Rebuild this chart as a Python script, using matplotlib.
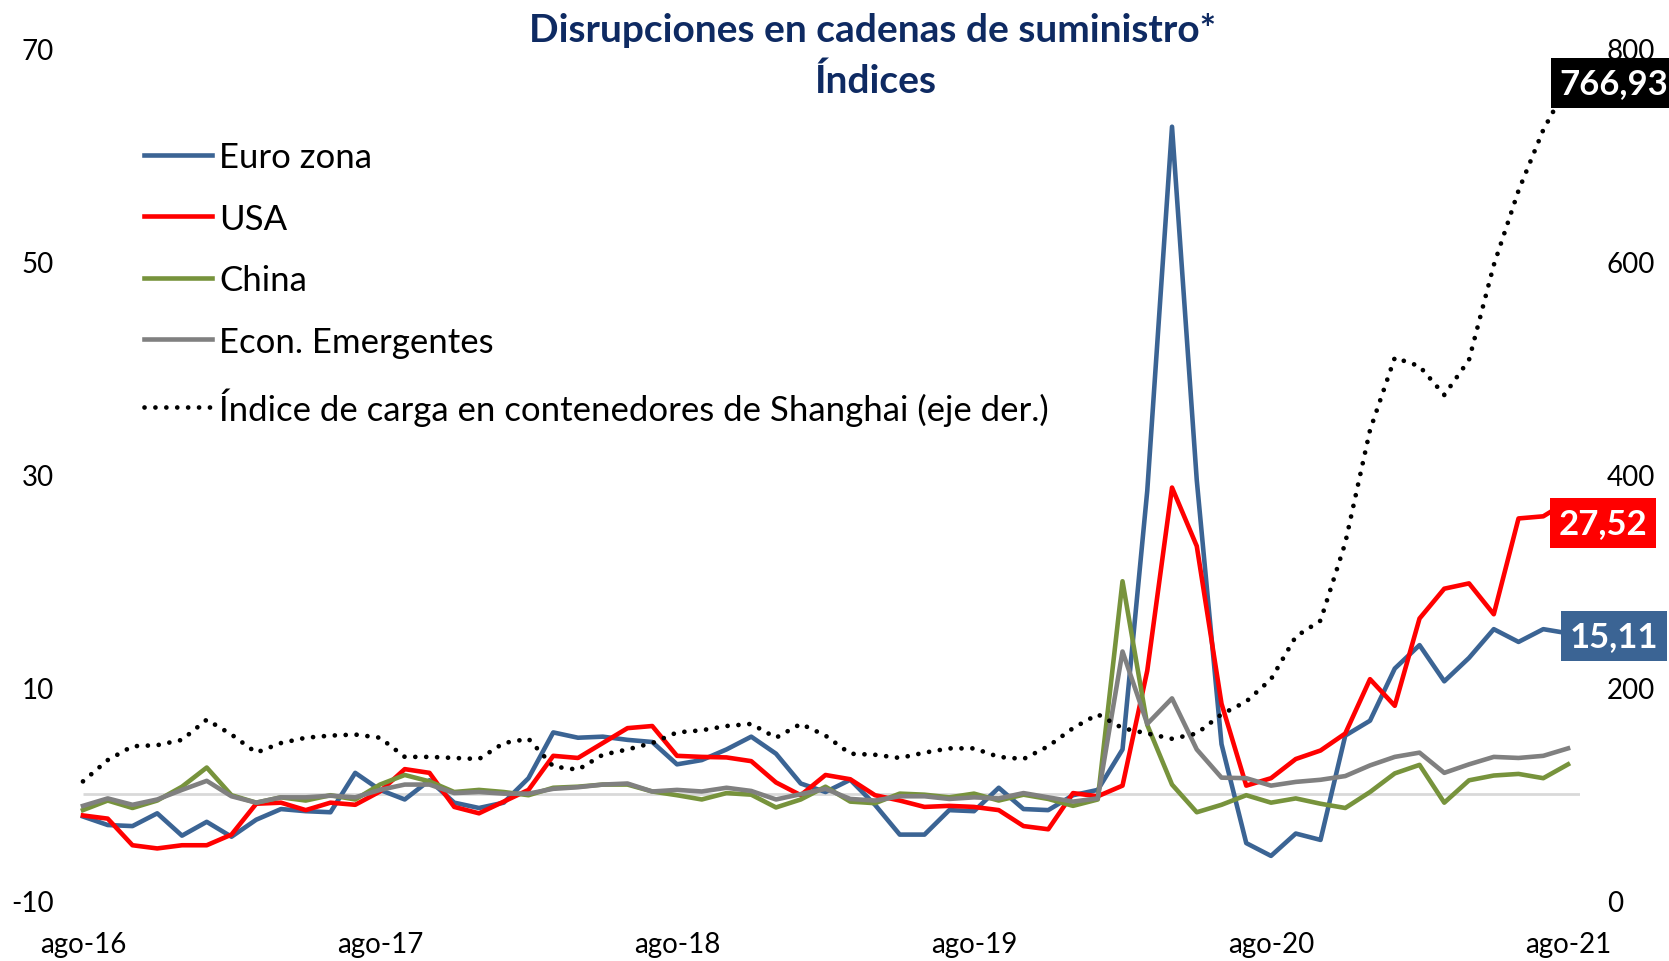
import matplotlib
matplotlib.use("Agg")
import matplotlib.pyplot as plt

plt.rcParams['font.family'] = ['Lato', 'DejaVu Sans']
plt.rcParams['axes.unicode_minus'] = False

# monthly, ago-16 .. ago-21
x_labels = ['ago-16', 'ago-17', 'ago-18', 'ago-19', 'ago-20', 'ago-21']

euro_zona = [-2.1, -2.9, -3.0, -1.8, -3.9, -2.6, -4.0, -2.4, -1.4, -1.6, -1.7, 2.0,
             0.4, -0.5, 1.3, -0.8, -1.3, -0.8, 1.5, 5.8, 5.3, 5.4, 5.1, 4.9,
             2.8, 3.2, 4.2, 5.4, 3.8, 1.0, 0.2, 1.35, -1.0, -3.8, -3.8, -1.5,
             -1.6, 0.6, -1.4, -1.5, -0.1, 0.4, 4.2, 28.5, 62.7, 29.5, 4.7, -4.6,
             -5.8, -3.7, -4.3, 5.5, 6.9, 11.8, 14.0, 10.6, 12.8, 15.5, 14.3, 15.5,
             15.11]
usa = [-2.0, -2.3, -4.8, -5.1, -4.8, -4.8, -3.8, -0.9, -0.8, -1.5, -0.8, -1.0,
       0.25, 2.35, 2.0, -1.2, -1.8, -0.7, 0.4, 3.6, 3.4, 4.8, 6.2, 6.4,
       3.6, 3.5, 3.45, 3.1, 1.1, -0.1, 1.8, 1.4, -0.1, -0.6, -1.2, -1.1,
       -1.2, -1.5, -3.0, -3.3, 0.1, -0.2, 0.8, 11.6, 28.8, 23.3, 8.5, 0.8,
       1.5, 3.3, 4.1, 5.7, 10.8, 8.3, 16.5, 19.3, 19.8, 16.9, 25.9, 26.1,
       27.52]
china = [-1.5, -0.6, -1.3, -0.6, 0.7, 2.5, -0.1, -0.8, -0.3, -0.6, -0.1, -0.5,
         0.9, 1.8, 1.2, 0.2, 0.4, 0.2, -0.1, 0.6, 0.7, 0.9, 0.9, 0.25,
         -0.1, -0.5, 0.1, -0.05, -1.25, -0.5, 0.7, -0.7, -0.85, 0.05, -0.05, -0.3,
         0.05, -0.6, -0.05, -0.45, -1.1, -0.5, 20.0, 6.5, 0.9, -1.7, -1.0, -0.1,
         -0.8, -0.4, -0.9, -1.3, 0.2, 1.95, 2.75, -0.8, 1.3, 1.75, 1.9, 1.5,
         2.8]
emergentes = [-1.1, -0.4, -1.0, -0.5, 0.4, 1.25, -0.2, -0.8, -0.3, -0.3, -0.15, -0.3,
              0.4, 0.9, 0.9, 0.1, 0.2, 0.05, 0.05, 0.5, 0.65, 0.9, 1.0, 0.25,
              0.4, 0.25, 0.6, 0.3, -0.5, 0.0, 0.5, -0.45, -0.6, -0.2, -0.2, -0.45,
              -0.3, -0.4, 0.1, -0.3, -0.7, -0.4, 13.4, 6.6, 9.0, 4.2, 1.55, 1.5,
              0.8, 1.15, 1.35, 1.7, 2.7, 3.5, 3.9, 2.0, 2.8, 3.5, 3.4, 3.6,
              4.3]
shanghai = [112, 132, 145, 146, 151, 170, 156, 139, 148, 153, 155, 156,
            153, 135, 135, 134, 133, 148, 152, 126, 123, 137, 142, 148,
            158, 160, 164, 166, 153, 166, 155, 138, 137, 134, 139, 143,
            143, 135, 133, 145, 162, 175, 162, 157, 152, 157, 175, 187,
            208, 248, 263, 336, 442, 510, 502, 475, 508, 597, 667, 724,
            766.93]

months = list(range(len(euro_zona)))

c_euro = '#3B6494'
c_usa = '#FF0000'
c_china = '#77933C'
c_em = '#808080'
c_title = '#0E2A62'

W, H = 1669, 962
fig = plt.figure(figsize=(W / 100, H / 100), dpi=100)
left_px, right_px = 70.6, 1580.4
bot_px, top_px = 901.6, 50
ax = fig.add_axes([left_px / W, (H - bot_px) / H, (right_px - left_px) / W, (bot_px - top_px) / H])
ax2 = ax.twinx()

ax.hlines(0, 0, 60.5, color='#D9D9D9', lw=2.0, zorder=1)

lw = 3.3
l1, = ax.plot(months, euro_zona, color=c_euro, lw=lw, label='Euro zona', zorder=3)
l2, = ax.plot(months, usa, color=c_usa, lw=lw, label='USA', zorder=3)
l3, = ax.plot(months, china, color=c_china, lw=lw, label='China', zorder=3)
l4, = ax.plot(months, emergentes, color=c_em, lw=lw, label='Econ. Emergentes', zorder=3)
l5, = ax2.plot(months, shanghai, color='black', lw=3.4, linestyle=(0, (0.01, 2.3)),
               dash_capstyle='round', label='Índice de carga en contenedores de Shanghai (eje der.)')

ax.set_xlim(-0.5, 60.5)
ax.set_ylim(-10, 70)
ax2.set_ylim(0, 800)
ax.set_yticks([-10, 10, 30, 50, 70])
ax2.set_yticks([0, 200, 400, 600, 800])
ax.set_xticks(range(0, 61, 12))
ax.set_xticklabels(x_labels)

for a in (ax, ax2):
    for s in a.spines.values():
        s.set_visible(False)
    a.tick_params(length=0, labelsize=20)
ax.tick_params(axis='y', pad=12)
ax.tick_params(axis='x', pad=22)
ax2.tick_params(axis='y', pad=19)

leg = ax.legend(handles=[l1, l2, l3, l4, l5], loc='upper left',
                bbox_to_anchor=(144 / W, (H - 142) / H), bbox_transform=fig.transFigure,
                frameon=False, fontsize=25, handlelength=1.95, handletextpad=0.22,
                labelspacing=0.85, borderpad=0, borderaxespad=0)
leg.set_zorder(10)

fig.text(873 / W, (H - 30) / H, 'Disrupciones en cadenas de suministro*', ha='center', va='center',
         fontsize=28, fontweight='bold', color=c_title)
fig.text(875 / W, (H - 81) / H, 'Índices', ha='center', va='center',
         fontsize=28, fontweight='bold', color=c_title)

box_kw = dict(ha='center', va='center', fontsize=25, fontweight='bold', color='white',
              textcoords='offset pixels', annotation_clip=False, zorder=12)
ax.annotate('27,52', xy=(60, usa[-1]), xytext=(35, -22),
            bbox=dict(boxstyle='square,pad=0.26', fc=c_usa, ec='none'), **box_kw)
ax.annotate('15,11', xy=(60, euro_zona[-1]), xytext=(46, -3),
            bbox=dict(boxstyle='square,pad=0.26', fc=c_euro, ec='none'), **box_kw)
ax2.annotate('766,93', xy=(60, shanghai[-1]), xytext=(46, 1),
             bbox=dict(boxstyle='square,pad=0.26', fc='black', ec='none'), **box_kw)

fig.savefig('out.png', dpi=100)
